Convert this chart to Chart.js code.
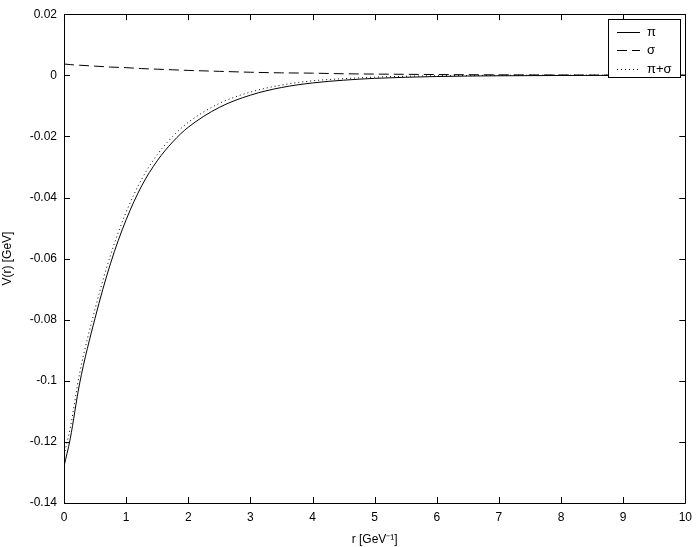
<!DOCTYPE html>
<html>
<head>
<meta charset="utf-8">
<script src="https://cdn.jsdelivr.net/npm/chart.js@4/dist/chart.umd.min.js"></script>
<style>
  html, body { margin: 0; padding: 0; background: #fff; }
  canvas { display: block; }
</style>
</head>
<body>
<canvas id="potChart" width="699" height="547"></canvas>
<script>
// r en GeV^-1
const radios = [0, 0.1, 0.25, 0.5, 0.75, 1, 1.25, 1.5, 1.75, 2, 2.5, 3, 3.5, 4, 4.5, 5, 6, 7, 8, 9, 10];
const potPi = [-0.128, -0.119, -0.101, -0.0795, -0.0615, -0.0473, -0.0362, -0.0280, -0.0218, -0.0170, -0.0105, -0.0065, -0.0040, -0.0025, -0.0016, -0.0010, -0.0004, -0.00016, -0.00006, -0.00003, -0.00002];
const potSigma = [0.0037, 0.0035, 0.0033, 0.0030, 0.0027, 0.0025, 0.0022, 0.0020, 0.0018, 0.0016, 0.0013, 0.0010, 0.0008, 0.0007, 0.0005, 0.0004, 0.00025, 0.00015, 0.0001, 0.00006, 0.00004];
const potTotal = [-0.1243, -0.1155, -0.0977, -0.0765, -0.0588, -0.0448, -0.0340, -0.0260, -0.0200, -0.0154, -0.0092, -0.0055, -0.0032, -0.0018, -0.0011, -0.0006, -0.00015, -0.00001, 0.00004, 0.00003, 0.00002];
const etiquetas = ['\u03c0', '\u03c3', '\u03c0+\u03c3'];
const estilosDash = [[], [10, 5], [1, 3]];

const fuente = '"Liberation Sans", Arial, Helvetica, sans-serif';

function puntos(ys) {
    return radios.map((r, i) => ({ x: r, y: ys[i] }));
}

// marcas hacia adentro y caja al estilo matlab, mas la leyenda
const cajaPlugin = {
    id: 'caja',
    afterDraw(chart) {
        const ctx = chart.ctx;
        const a = chart.chartArea;
        const sx = chart.scales.x, sy = chart.scales.y;
        ctx.save();
        ctx.strokeStyle = '#000';
        ctx.lineWidth = 1;
        ctx.beginPath();
        ctx.rect(Math.round(a.left) + 0.5, Math.round(a.top) + 0.5, Math.round(a.right - a.left), Math.round(a.bottom - a.top));
        ctx.stroke();
        const tl = 6;
        ctx.beginPath();
        sx.ticks.forEach(t => {
            const px = Math.round(sx.getPixelForValue(t.value)) + 0.5;
            ctx.moveTo(px, a.bottom); ctx.lineTo(px, a.bottom - tl);
            ctx.moveTo(px, a.top); ctx.lineTo(px, a.top + tl);
        });
        sy.ticks.forEach(t => {
            const py = Math.round(sy.getPixelForValue(t.value)) + 0.5;
            ctx.moveTo(a.left, py); ctx.lineTo(a.left + tl, py);
            ctx.moveTo(a.right, py); ctx.lineTo(a.right - tl, py);
        });
        ctx.stroke();

        // leyenda
        const lx = 608.5, ly = 19.5, lw = 72, lh = 58;
        ctx.fillStyle = '#fff';
        ctx.fillRect(lx, ly, lw, lh);
        ctx.strokeRect(lx, ly, lw, lh);
        const filas = [32, 50, 69];
        ctx.font = '13px ' + fuente;
        ctx.textBaseline = 'middle';
        ctx.fillStyle = '#000';
        etiquetas.forEach((txt, i) => {
            const y = filas[i] + 0.5;
            ctx.setLineDash(estilosDash[i]);
            ctx.beginPath();
            ctx.moveTo(617, y); ctx.lineTo(640, y);
            ctx.stroke();
            ctx.setLineDash([]);
            ctx.fillText(txt, 647, y);
        });
        ctx.restore();
    }
};

const ctx = document.getElementById('potChart').getContext('2d');
const grafica = new Chart(ctx, {
    type: 'line',
    data: {
        datasets: [
            { label: etiquetas[0], data: puntos(potPi), borderDash: estilosDash[0] },
            { label: etiquetas[1], data: puntos(potSigma), borderDash: estilosDash[1] },
            { label: etiquetas[2], data: puntos(potTotal), borderDash: estilosDash[2] }
        ].map(d => Object.assign(d, {
            borderColor: '#000',
            borderWidth: 1,
            pointRadius: 0,
            fill: false,
            cubicInterpolationMode: 'monotone'
        }))
    },
    options: {
        responsive: false,
        animation: false,
        layout: { padding: { top: 13, right: 13, left: 0, bottom: 0 } },
        plugins: {
            legend: { display: false },
            tooltip: { enabled: false }
        },
        scales: {
            x: {
                type: 'linear',
                min: 0,
                max: 10,
                grid: { display: false, drawTicks: false },
                border: { display: false },
                ticks: {
                    stepSize: 1,
                    padding: 7,
                    color: '#000',
                    font: { family: fuente, size: 12 },
                    maxRotation: 0
                },
                title: {
                    display: true,
                    text: 'r [GeV\u207b\u00b9]',
                    color: '#000',
                    font: { family: fuente, size: 12 },
                    padding: { top: 4, bottom: 0 }
                },
                afterFit(scale) { scale.height = 44; }
            },
            y: {
                min: -0.14,
                max: 0.02,
                grid: { display: false, drawTicks: false },
                border: { display: false },
                ticks: {
                    stepSize: 0.02,
                    padding: 7,
                    color: '#000',
                    font: { family: fuente, size: 12 },
                    callback: v => Math.abs(v) < 1e-9 ? '0' : String(Math.round(v * 100) / 100)
                },
                title: {
                    display: true,
                    text: 'V(r) [GeV]',
                    color: '#000',
                    font: { family: fuente, size: 12 },
                    padding: { top: 0, bottom: 4 }
                },
                afterFit(scale) { scale.width = 64; }
            }
        }
    },
    plugins: [cajaPlugin]
});
</script>
</body>
</html>
